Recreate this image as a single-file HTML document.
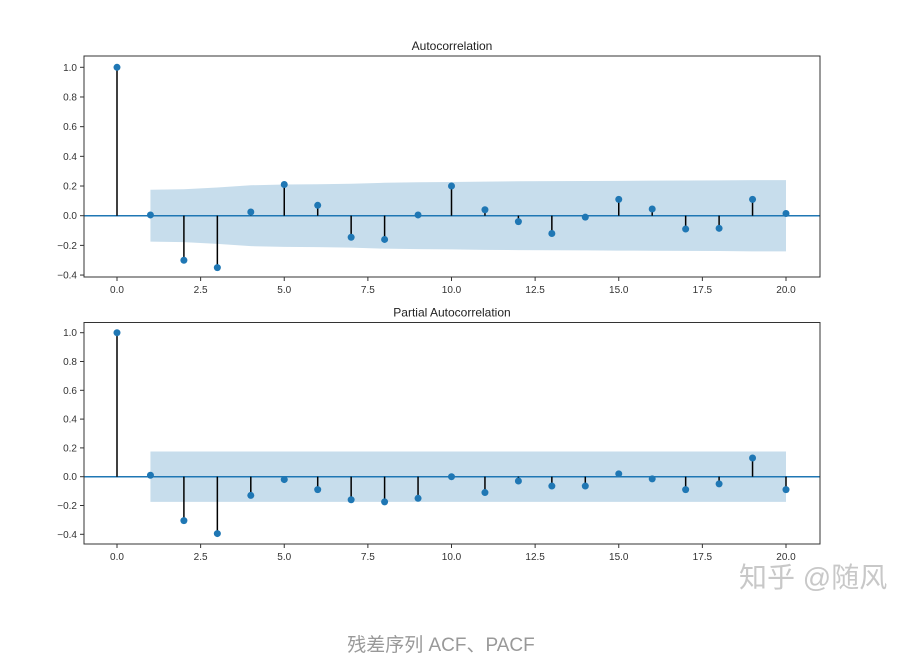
<!DOCTYPE html>
<html><head><meta charset="utf-8"><style>
body{margin:0;background:#fff;width:917px;height:663px;overflow:hidden;position:relative;font-family:"Liberation Sans","Noto Sans CJK SC",sans-serif}
svg text{font-family:"Liberation Sans","DejaVu Sans",sans-serif}
</style></head><body>
<svg id="chart" width="917" height="663" style="position:absolute;left:0;top:0"></svg>
<div style="position:absolute;left:739px;top:556px;font-size:28px;color:#c8c8c8;font-family:'Liberation Sans','Noto Sans CJK SC',sans-serif">知乎 @随风</div>
<div style="position:absolute;left:0;width:882px;top:630px;text-align:center;font-size:19px;color:#999;font-family:'Liberation Sans','Noto Sans CJK SC',sans-serif">残差序列 ACF、PACF</div>
<script>
const lags=[0,1,2,3,4,5,6,7,8,9,10,11,12,13,14,15,16,17,18,19,20];
const acfValues=[1,0.005,-0.30,-0.35,0.025,0.21,0.07,-0.145,-0.16,0.005,0.20,0.04,-0.04,-0.12,-0.01,0.11,0.045,-0.09,-0.085,0.11,0.015];
const acfConf=[0,0.175,0.178,0.19,0.205,0.21,0.212,0.215,0.222,0.225,0.227,0.23,0.232,0.233,0.234,0.235,0.236,0.237,0.238,0.24,0.24];
const pacfValues=[1,0.01,-0.305,-0.395,-0.13,-0.02,-0.09,-0.16,-0.175,-0.15,0.0,-0.11,-0.03,-0.065,-0.065,0.02,-0.015,-0.09,-0.05,0.13,-0.09];
const pacfConf=[0,0.175,0.175,0.175,0.175,0.175,0.175,0.175,0.175,0.175,0.175,0.175,0.175,0.175,0.175,0.175,0.175,0.175,0.175,0.175,0.175];
const xTicks=[0,2.5,5,7.5,10,12.5,15,17.5,20];
const yTicks=[-0.4,-0.2,0,0.2,0.4,0.6,0.8,1.0];
const svg=document.getElementById('chart');
const NS='http://www.w3.org/2000/svg';
function mk(t,a,p){const e=document.createElementNS(NS,t);for(const k in a)e.setAttribute(k,a[k]);(p||svg).appendChild(e);return e;}
function panel(name,title,vals,conf,box){
  const g=mk('g',{});
  
  
  const x=v=>box.x0+v*box.sx;
  const y=v=>box.y0-v*box.sy;
  let d='M'+x(1)+','+y(conf[1]);
  for(let i=2;i<lags.length;i++)d+=' L'+x(lags[i])+','+y(conf[i]);
  for(let i=lags.length-1;i>=1;i--)d+=' L'+x(lags[i])+','+y(-conf[i]);
  const band=mk('path',{d:d+'Z',fill:'#1f77b4','fill-opacity':0.25},g);
  
  
  const zl=mk('line',{x1:box.l,x2:box.r,y1:y(0),y2:y(0),stroke:'#1f77b4','stroke-width':1.5},g);
  
  
  for(let i=0;i<lags.length;i++){
    const s=mk('line',{x1:x(lags[i]),x2:x(lags[i]),y1:y(0),y2:y(vals[i]),stroke:'#000','stroke-width':1.5},g);
    
    
    const c=mk('circle',{cx:x(lags[i]),cy:y(vals[i]),r:3.5,fill:'#1f77b4'},g);
    
    
  }
  const fr=mk('rect',{x:box.l,y:box.t,width:box.r-box.l,height:box.b-box.t,fill:'none',stroke:'#333','stroke-width':1},g);
  
  
  xTicks.forEach(v=>{
    mk('line',{x1:x(v),x2:x(v),y1:box.b,y2:box.b+4,stroke:'#333'},g);
    const t=mk('text',{x:x(v),y:box.b+16,'font-size':10,'text-anchor':'middle',fill:'#333'},g);
    t.textContent=v.toFixed(1);
    
    
  });
  yTicks.forEach(v=>{
    mk('line',{x1:box.l-4,x2:box.l,y1:y(v),y2:y(v),stroke:'#333'},g);
    const t=mk('text',{x:box.l-7,y:y(v)+3.5,'font-size':10,'text-anchor':'end',fill:'#333'},g);
    t.textContent=(v<0?'\u2212':'')+Math.abs(v).toFixed(1);
    
    
  });
  const tt=mk('text',{x:(box.l+box.r)/2,y:box.t-6,'font-size':12,'text-anchor':'middle',fill:'#222'},g);
  tt.textContent=title;
  
  
}
panel('acf-panel','Autocorrelation',acfValues,acfConf,{l:84,r:820,t:56,b:277,x0:117,sx:33.45,y0:215.7,sy:148.4});
panel('pacf-panel','Partial Autocorrelation',pacfValues,pacfConf,{l:84,r:820,t:322.5,b:544,x0:117,sx:33.45,y0:476.7,sy:144});
</script>
</body></html>
